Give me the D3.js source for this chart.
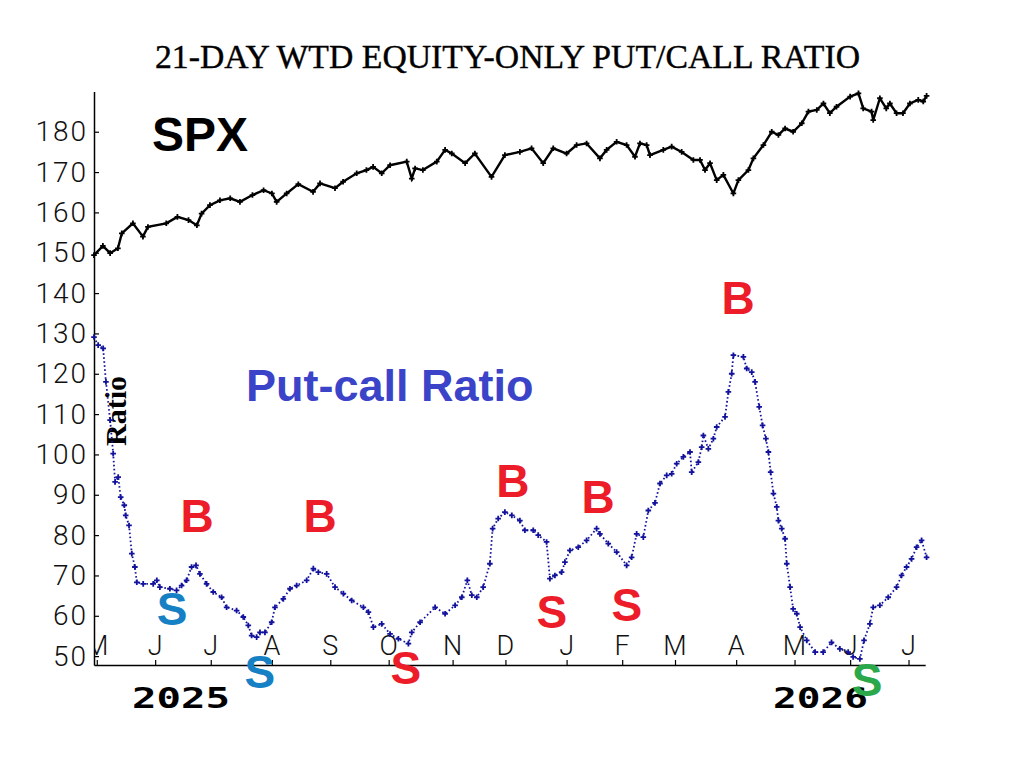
<!DOCTYPE html>
<html>
<head>
<meta charset="utf-8">
<script src="https://cdn.jsdelivr.net/npm/d3@7"></script>
<style>
  body { margin: 0; background: #fff; }
  .tick text { font-family: Roboto, sans-serif; font-weight: 300; }
</style>
</head>
<body>
<svg id="chart" width="1013" height="757"></svg>
<script>
// x values are trading days counted from the end of April 2025
var spxDay = [0, 3.2, 5.8, 8.6, 10, 14, 17.6, 19.4, 26, 30, 34, 37, 38.7, 41.7, 45.3, 49, 52.5, 57, 61, 64,
    65.7, 69.3, 73.5, 78.8, 81.3, 86.7, 89.6, 94.5, 98, 100.4, 103.5, 106.5, 112.5, 114.3, 115.5, 118.3, 123.3,
    126.3, 128.7, 133.5, 137, 143, 147.8, 153.2, 157.4, 161.6, 165.2, 170, 173.6, 177.2, 182, 184.4, 188, 191.6,
    194.6, 196.4, 198.8, 200, 204.8, 207.8, 211.4, 215.6, 218, 219.8, 221.6, 224, 226.4, 230, 231.8, 235.4, 237.2,
    240.8, 243.8, 246.2, 248.6, 251.5, 254.6, 257, 260, 262.4, 264.7, 267.1, 272, 275, 276.7, 279.7, 280.3, 282.7,
    285, 286.3, 288.7, 291, 293.5, 296.5, 298.3, 299.5]
var spxValue = [149.4, 151.7, 149.9, 151.1, 154.8, 157.3, 154, 156.4, 157.3, 158.9, 158.1, 156.8, 159.7, 161.8, 163, 163.5, 162.6, 164.3, 165.5, 164.7,
    162.6, 164.7, 167, 165.1, 167.2, 166, 167.6, 169.7, 170.5, 171.3, 169.7, 171.7, 172.6, 168.4, 170.9, 170.5, 172.6,
    175.5, 174.6, 172.2, 174.6, 168.8, 174.2, 175, 175.9, 172.2, 175.9, 174.6, 176.7, 177.1, 173.4, 175.5, 177.5, 176.7,
    173.8, 177.1, 176.7, 174.2, 175.5, 176.3, 175, 173, 173, 170.5, 172.2, 168, 169.3, 164.7, 168, 170.5, 173.4,
    176.7, 180, 179.2, 180.8, 180, 182.1, 185, 185.4, 187, 184.6, 186.2, 188.7, 189.5, 185.8, 185, 182.9, 188.3,
    185.8, 187, 184.6, 184.6, 187, 187.9, 187.5, 188.9]

var ratioDay = [0, 1.5, 3.3, 4.3, 5.8, 6.9, 7.6, 8.7, 9.6, 10.9, 11.4, 12.6, 13.6, 14.7, 15.4, 17.7, 21.3, 22.6, 23.7,
    27.3, 29.7, 31.5, 33.3, 35.1, 36.7, 38.1, 40.5, 42.9, 45.9, 47.7, 51.3, 53.7, 55.5, 56.7, 58.5, 59.7, 61.5, 63.9,
    65.1, 68.1, 70.5, 72.9, 76.5, 78.9, 80.7, 83.7, 86.7, 89.7, 92.7, 96.9, 98.7, 100.5, 103.5, 106.5, 109.5, 113.1,
    114.3, 117.3, 122.7, 126.3, 129.9, 132.3, 134.3, 135.9, 137.7, 140, 142.4, 143.4, 145.4, 147.8, 150.3, 153.2,
    155, 158, 159.8, 162.8, 164, 165.8, 168.2, 169.4, 171.2, 174.2, 177.2, 180.8, 182, 185, 188, 191.6, 193.4, 195.2,
    197.6, 199.4, 201.8, 203.6, 206, 207.8, 209.6, 212, 214.4, 215, 217.4, 218.6, 219.2, 221, 222.8, 224, 227, 228.2,
    229.4, 230, 233.6, 234.8, 236.6, 237.8, 239.3, 240.5, 241.7, 242.6, 243.4, 244.4, 245.6, 246.2, 247.4, 248.6,
    249.2, 250.4, 251.5, 252.8, 254, 256.4, 259.4, 262.3, 265.3, 268.3, 271.3, 273.1, 275.5, 277, 279.1, 280.3,
    282.7, 285.7, 288.7, 290.5, 292.3, 294.1, 295.9, 297.7, 299.5]
var ratioValue = [129.1, 127.1, 126.3, 118, 108.5, 100.2, 93.2, 94.4, 89.4, 87.4, 84.9, 82.4, 75.4, 72.1, 68.3, 67.9, 67.9, 68.8, 67.1,
    66.7, 66.3, 67.5, 68.8, 72.1, 72.5, 70.4, 67.9, 65.9, 64.6, 62.1, 61.3, 59.7, 57.6, 55.1, 54.7, 55.9, 55.9, 58.4,
    62.1, 64.2, 66.7, 67.5, 68.8, 71.7, 70.8, 70.4, 67.1, 65.5, 63.8, 62.1, 60.9, 57.2, 58, 55.5, 54.3, 53.1,
    55.9, 58.4, 62.1, 60.5, 62.6, 64.6, 68.8, 65.1, 64.6, 67.1, 72.9, 81.6, 84.1, 85.7, 84.9, 83.6,
    81.2, 81.2, 80, 78.3, 69.2, 70, 70.8, 73.3, 76.2, 77, 78.7, 81.6, 80.3, 77.9, 75.8, 72.5, 74.5, 80.3,
    79.5, 86.1, 88, 92.8, 94.8, 95.2, 97.7, 99.4, 100.6, 95.6, 98.1, 101.8, 104.7, 101.4, 103.9, 106.8, 109.3, 115.5,
    120, 124.6, 124.2, 121.3, 120.4, 118, 111.8, 107.2, 103.9, 100.6, 95.6, 90.3, 87, 83.6, 81.6, 79.1,
    72.9, 67.1, 61.7, 60.5, 57.2, 53.9, 51, 51, 53.4, 51.8, 51, 49.8, 49.3, 53.9, 58, 62.1,
    62.6, 64.6, 67.1, 70, 72.1, 74.1, 77, 78.7, 74.5]

var monthDay = [1, 22, 42, 64, 85, 106, 129, 148, 170, 190, 209, 231, 252, 272, 293]
var monthLabel = ["M", "J", "J", "A", "S", "O", "N", "D", "J", "F", "M", "A", "M", "J", "J"]
var yTicks = [50, 60, 70, 80, 90, 100, 110, 120, 130, 140, 150, 160, 170, 180]

// buy / sell letters, placed in chart units (day, value of the baseline)
var signalLabel = ["S", "B", "S", "B", "S", "B", "S", "B", "S", "B", "S"]
var signalDay = [28.1, 37.1, 59.7, 81.3, 112.2, 150.7, 164.7, 181.3, 191.7, 231.7, 278.1]
var signalValue = [57.8, 80.7, 42.2, 80.7, 43.2, 89.4, 57, 85.6, 58.8, 134.8, 40.2]
var signalColor = ["#1580c4", "#ec1c28", "#1580c4", "#ec1c28", "#ec1c28", "#ec1c28", "#ec1c28", "#ec1c28", "#ec1c28", "#ec1c28", "#2aa84a"]

var svg = d3.select("#chart")

var x = d3.scaleLinear().domain([0, 299]).range([94, 925.2])
var y = d3.scaleLinear().domain([47.8, 190]).range([665, 91.4])

svg.append("clipPath").attr("id", "plotClip")
    .append("rect").attr("x", 95).attr("y", 80).attr("width", 840).attr("height", 590)

// title
svg.append("text")
    .attr("x", 155).attr("y", 68)
    .attr("textLength", 705).attr("lengthAdjust", "spacingAndGlyphs")
    .style("font-family", "'Liberation Serif', serif")
    .style("font-size", "34px")
    .style("stroke", "#000").style("stroke-width", 0.4)
    .text("21-DAY WTD EQUITY-ONLY PUT/CALL RATIO")

// y axis, ticks point inward
var yAxis = svg.append("g")
    .attr("transform", "translate(94,0)")
    .call(d3.axisLeft(y).tickValues(yTicks).tickSizeInner(-5).tickSizeOuter(0).tickPadding(6))
yAxis.select(".domain").attr("stroke", "#000").attr("stroke-width", 1.5)
yAxis.selectAll(".tick line").attr("stroke-width", 1.2)
yAxis.selectAll(".tick text")
    .style("font-size", "28px")
    .style("letter-spacing", "2px")
    .attr("fill", "#111")

// x axis with month ticks, labels sit inside the plot
var xAxis = svg.append("g")
    .attr("transform", "translate(0,665)")
    .call(d3.axisBottom(x).tickValues(monthDay).tickSizeInner(-5).tickSizeOuter(0).tickFormat(""))
xAxis.select(".domain").attr("stroke", "#000").attr("stroke-width", 1.5)
xAxis.selectAll(".tick line").attr("stroke-width", 1.2)

svg.append("g").attr("clip-path", "url(#plotClip)")
    .selectAll("text")
    .data(monthDay)
    .enter().append("text")
    .attr("x", function (d) { return x(d) })
    .attr("y", 655)
    .attr("text-anchor", "middle")
    .style("font-family", "Roboto, sans-serif")
    .style("font-weight", 300)
    .style("font-size", "27px")
    .attr("fill", "#111")
    .text(function (d, i) { return monthLabel[i] })

// year labels
svg.append("text").attr("x", 132).attr("y", 708)
    .attr("textLength", 98).attr("lengthAdjust", "spacingAndGlyphs")
    .style("font-family", "'DejaVu Sans Mono', monospace").style("font-weight", "bold").style("font-size", "29px")
    .text("2025")
svg.append("text").attr("x", 773).attr("y", 708)
    .attr("textLength", 95).attr("lengthAdjust", "spacingAndGlyphs")
    .style("font-family", "'DejaVu Sans Mono', monospace").style("font-weight", "bold").style("font-size", "29px")
    .text("2026")

// "Ratio" axis caption
svg.append("text")
    .attr("transform", "translate(126,411) rotate(-90)")
    .attr("text-anchor", "middle")
    .style("font-family", "'Liberation Serif', serif")
    .style("font-weight", "bold")
    .style("font-size", "30px")
    .text("Ratio")

function plus(d) {
    var px = x(d[0]), py = y(d[1]), s = 2.8
    return "M" + (px - s) + "," + py + "H" + (px + s) + "M" + px + "," + (py - s) + "V" + (py + s)
}

// SPX line
var spx = spxDay.map(function (d, i) { return [d, spxValue[i]] })
var line = d3.line()
    .x(function (d) { return x(d[0]) })
    .y(function (d) { return y(d[1]) })

svg.append("path")
    .datum(spx)
    .attr("fill", "none")
    .attr("stroke", "#000")
    .attr("stroke-width", 2.4)
    .attr("d", line)
svg.append("path")
    .attr("fill", "none")
    .attr("stroke", "#000")
    .attr("stroke-width", 1.8)
    .attr("d", spx.map(plus).join(""))

// put/call ratio line: dotted with + markers
var ratio = ratioDay.map(function (d, i) { return [d, ratioValue[i]] })
svg.append("path")
    .datum(ratio)
    .attr("fill", "none")
    .attr("stroke", "#12129c")
    .attr("stroke-width", 1.8)
    .attr("stroke-dasharray", "1.6 2.4")
    .attr("d", line)
svg.append("path")
    .attr("fill", "none")
    .attr("stroke", "#12129c")
    .attr("stroke-width", 1.8)
    .attr("d", ratio.map(plus).join(""))

// captions
svg.append("text")
    .attr("x", 152).attr("y", 151)
    .style("font-family", "'Liberation Sans', Arial, sans-serif")
    .style("font-weight", "bold")
    .style("font-size", "48px")
    .text("SPX")

svg.append("text")
    .attr("x", 246).attr("y", 401)
    .style("font-family", "'Liberation Sans', Arial, sans-serif")
    .style("font-weight", "bold")
    .style("font-size", "45px")
    .attr("fill", "#3b44c8")
    .text("Put-call Ratio")

// signals
svg.append("g").selectAll("text")
    .data(signalDay)
    .enter().append("text")
    .attr("x", function (d) { return x(d) })
    .attr("y", function (d, i) { return y(signalValue[i]) })
    .attr("text-anchor", "middle")
    .style("font-family", "'Liberation Sans', Arial, sans-serif")
    .style("font-weight", "bold")
    .style("font-size", "46px")
    .attr("fill", function (d, i) { return signalColor[i] })
    .text(function (d, i) { return signalLabel[i] })
</script>
</body>
</html>
